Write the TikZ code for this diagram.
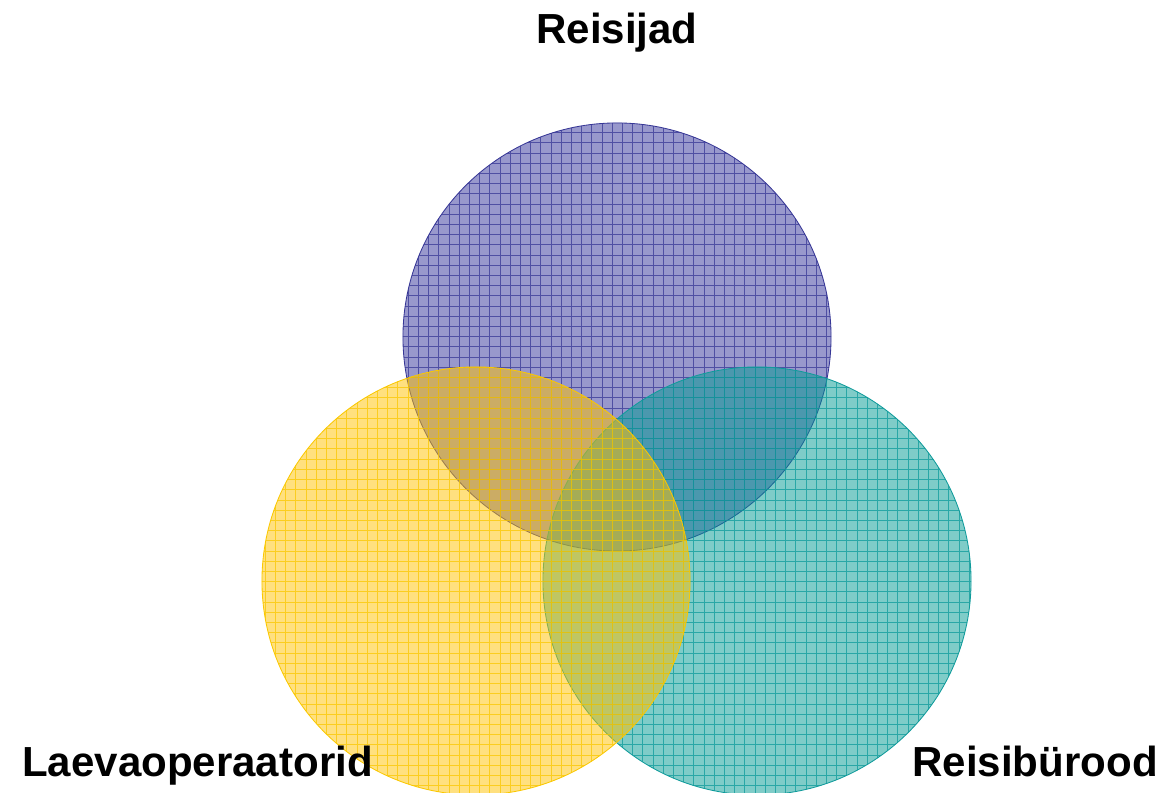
\documentclass[tikz,border=0pt]{standalone}
\usepackage{fontspec}
\setmainfont{Liberation Sans}
\usepackage{tikz}
\usepackage{xcolor}

\definecolor{travlFill}{RGB}{50,50,153}
\definecolor{travlLine}{RGB}{55,55,150}
\definecolor{shipFill}{RGB}{255,193,0}
\definecolor{shipLine}{RGB}{250,200,0}
\definecolor{agentFill}{RGB}{0,153,145}
\definecolor{agentLine}{RGB}{15,155,155}

\begin{document}
\begin{tikzpicture}[x=0.025cm,y=-0.025cm]
		\tikzstyle{every node}+=[inner sep=0pt]
		\tikzstyle{title}=[font=\fontsize{29.9}{36}\selectfont\bfseries]
		\useasboundingbox (0,0) rectangle (1167,793);
		\coordinate (travl) at (617,337);
		\coordinate (ship) at (476,581);
		\coordinate (agent) at (757,581);
		% Reisijad
		\fill [travlFill, fill opacity=0.5] (travl) circle [radius=5.35cm];
		\begin{scope}
		\clip (travl) circle [radius=5.35cm];
		\draw [travlLine, opacity=0.75, line width=0.6pt, step=0.255cm] (0,0) grid (1167,793);
		\end{scope}
		\draw [travlLine, line width=0.6pt] (travl) circle [radius=5.35cm];
		% Reisibürood
		\fill [agentFill, fill opacity=0.5] (agent) circle [radius=5.35cm];
		\begin{scope}
		\clip (agent) circle [radius=5.35cm];
		\draw [agentLine, opacity=0.75, line width=0.6pt, step=0.255cm] (0,0) grid (1167,793);
		\end{scope}
		\draw [agentLine, line width=0.6pt] (agent) circle [radius=5.35cm];
		% Laevaoperaatorid
		\fill [shipFill, fill opacity=0.5] (ship) circle [radius=5.35cm];
		\begin{scope}
		\clip (ship) circle [radius=5.35cm];
		\draw [shipLine, opacity=0.75, line width=0.6pt, step=0.255cm] (0,0) grid (1167,793);
		\end{scope}
		\draw [shipLine, line width=0.6pt] (ship) circle [radius=5.35cm];
		% labels
		\node [title, anchor=base] (travlLabel) at (617,44) {Reisijad};
		\node [title, anchor=base west] (shipLabel) at (22,777) {Laevaoperaatorid};
		\node [title, anchor=base east] (agentLabel) at (1158,777) {Reisibürood};
\end{tikzpicture}
\end{document}
